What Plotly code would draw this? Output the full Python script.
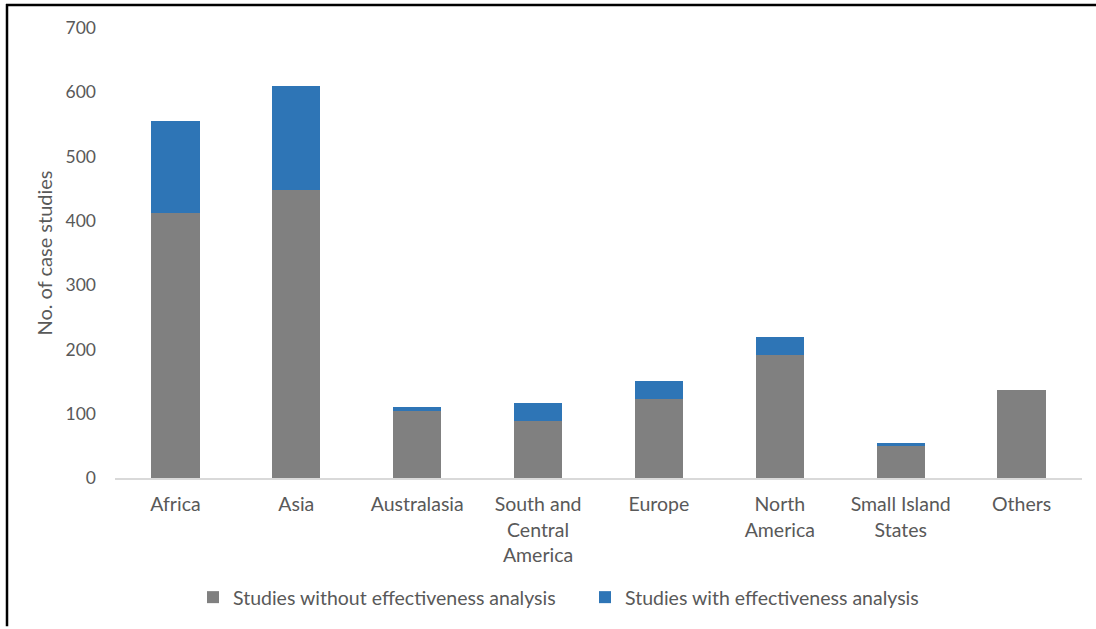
import plotly.graph_objects as go

categories = ["Africa", "Asia", "Australasia", "South and<br>Central<br>America",
              "Europe", "North<br>America", "Small Island<br>States", "Others"]
without_eff = [413, 448, 104, 88, 123, 192, 50, 137]
with_eff = [142, 162, 7, 29, 28, 27, 5, 0]
y_ticks = [0, 100, 200, 300, 400, 500, 600, 700]

FONT = "Lato, 'Open Sans', sans-serif"
TXT = "#595959"

fig = go.Figure()
fig.add_trace(go.Bar(x=categories, y=without_eff, name="Studies without effectiveness analysis",
                     marker=dict(color="#808080", line=dict(width=0))))
fig.add_trace(go.Bar(x=categories, y=with_eff, name="Studies with effectiveness analysis",
                     marker=dict(color="#2E75B6", line=dict(width=0))))

L, R, T, B = 115, 14, 28, 149
W, H = 1096, 629
pw, ph = W - L - R, H - T - B

def px(x):
    return (x - L) / pw

def py(y):
    return (H - B - y) / ph

fig.update_layout(
    barmode="stack",
    bargap=0.6,
    width=W, height=H,
    margin=dict(l=L, r=R, t=T, b=B, pad=0),
    paper_bgcolor="white", plot_bgcolor="white",
    font=dict(family=FONT, size=19, color=TXT),
    showlegend=True,
    legend=dict(orientation="h", x=px(193), xanchor="left", y=py(600), yanchor="middle",
                font=dict(family=FONT, size=19.5, color=TXT), itemwidth=30,
                entrywidth=347, entrywidthmode="pixels",
                traceorder="normal"),
    shapes=[
        dict(type="line", xref="paper", yref="paper", x0=px(6), x1=px(1096), y0=py(5), y1=py(5),
             line=dict(color="black", width=2.5)),
        dict(type="line", xref="paper", yref="paper", x0=px(7), x1=px(7), y0=py(4), y1=py(629),
             line=dict(color="black", width=2.5)),
    ],
)
fig.update_xaxes(showline=True, linecolor="#D9D9D9", linewidth=1.5, showgrid=False,
                 ticks="", tickfont=dict(size=19.5, color=TXT), ticklabelstandoff=8)
fig.update_yaxes(range=[0, 700], tickvals=y_ticks, showgrid=False, showline=False, zeroline=False,
                 ticks="", tickfont=dict(size=17.5, color=TXT), ticklabelstandoff=18,
                 title=dict(text="No. of case studies", font=dict(size=20, color=TXT), standoff=7))

fig.write_html("out.html", config={"displayModeBar": False},
               post_script="document.body.style.margin='0';document.body.style.padding='0';")
